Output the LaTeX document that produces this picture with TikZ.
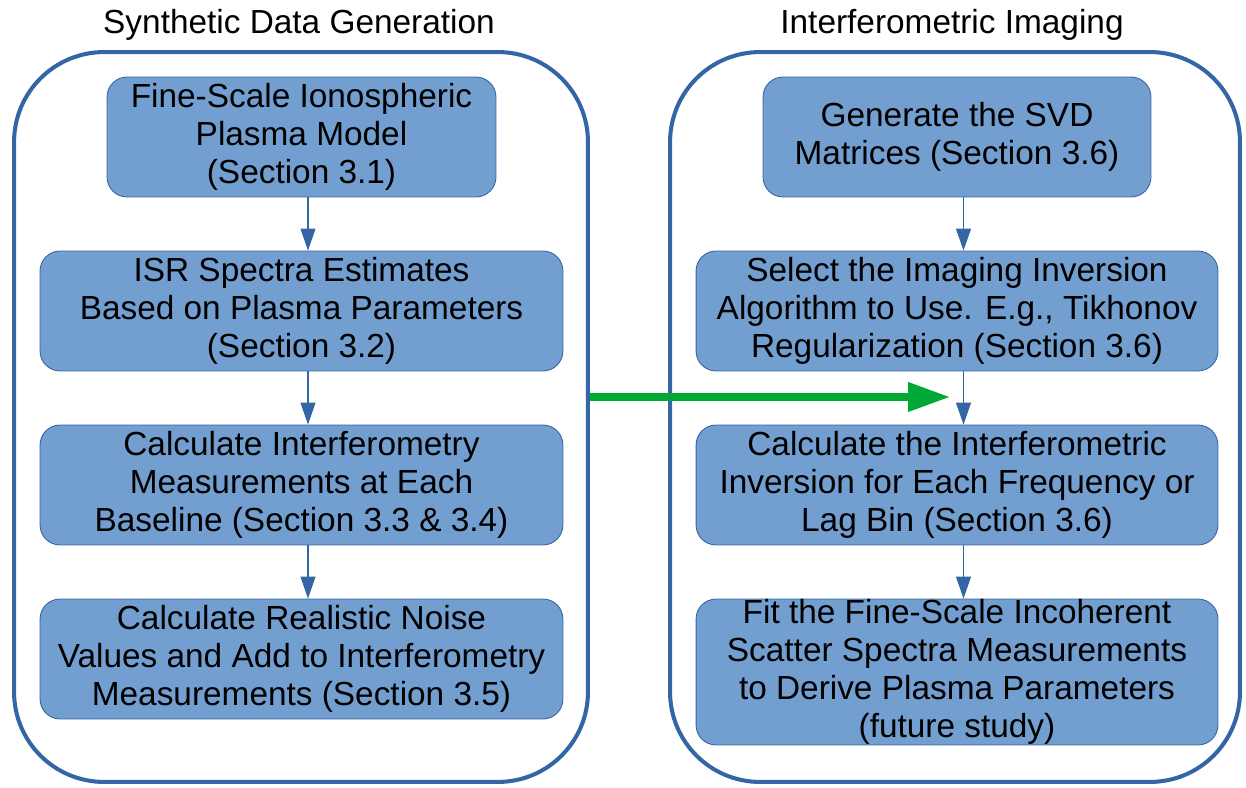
\documentclass[tikz,border=0pt]{standalone}
\usepackage{fontspec}
\setmainfont{Liberation Sans}
\usetikzlibrary{arrows.meta}

\definecolor{frameblue}{HTML}{3465A4}
\definecolor{boxblue}{HTML}{729FCF}
\definecolor{flowgreen}{HTML}{00A933}

\tikzset{
  group/.style={draw=frameblue, line width=2.3pt, rounded corners=1.8cm, minimum height=14.6cm},
  stepbox/.style={draw=frameblue, fill=boxblue, line width=0.5pt, rounded corners=0.4cm,
    align=center, minimum height=2.4cm, inner sep=0pt},
  flow/.style={draw=frameblue, line width=0.6pt, -{Triangle[length=0.44cm, width=0.3cm]}},
  title/.style={anchor=base},
}

\begin{document}
\begin{tikzpicture}[x=0.02cm, y=-0.02cm, font=\fontsize{19}{21.5}\selectfont]
    \useasboundingbox (0,0) rectangle (1246,787);

    % the two group frames
    \node[group, minimum width=11.48cm] (synth) at (301,417) {};
    \node[group, minimum width=11.4cm] (imaging) at (955,417) {};
    \node[title] (synthtitle) at (299,34) {Synthetic Data Generation};
    \node[title] (imagingtitle) at (952,34) {Interferometric Imaging};

    % left column
    \node[stepbox, minimum width=7.78cm] (model) at (301.5,137)
      {Fine-Scale Ionospheric\\Plasma Model\\(Section 3.1)};
    \node[stepbox, minimum width=10.46cm] (spectra) at (301.5,311)
      {ISR Spectra Estimates\\Based on Plasma Parameters\\(Section 3.2)};
    \node[stepbox, minimum width=10.46cm] (interf) at (301.5,485)
      {Calculate Interferometry\\Measurements at Each\\Baseline (Section 3.3 \& 3.4)};
    \node[stepbox, minimum width=10.46cm] (noise) at (301.5,659)
      {Calculate Realistic Noise\\Values and Add to Interferometry\\Measurements (Section 3.5)};

    % right column
    \node[stepbox, minimum width=7.76cm] (svd) at (957,137)
      {Generate the SVD\\Matrices (Section 3.6)};
    \node[stepbox, minimum width=10.44cm] (algo) at (957,311)
      {Select the Imaging Inversion\\Algorithm to Use. E.g., Tikhonov\\Regularization (Section 3.6)};
    \node[stepbox, minimum width=10.44cm] (inversion) at (957,485)
      {Calculate the Interferometric\\Inversion for Each Frequency or\\Lag Bin (Section 3.6)};
    \node[stepbox, minimum width=10.44cm, minimum height=2.92cm] (fit) at (957,672)
      {Fit the Fine-Scale Incoherent\\Scatter Spectra Measurements\\to Derive Plasma Parameters\\(future study)};

    % arrows inside the columns
    \draw[flow] ([xshift=0.13cm]model.south) -- ([xshift=0.13cm]spectra.north);
    \draw[flow] ([xshift=0.13cm]spectra.south) -- ([xshift=0.13cm]interf.north);
    \draw[flow] ([xshift=0.13cm]interf.south) -- ([xshift=0.13cm]noise.north);
    \draw[flow] ([xshift=0.13cm]svd.south) -- ([xshift=0.13cm]algo.north);
    \draw[flow] ([xshift=0.13cm]algo.south) -- ([xshift=0.13cm]inversion.north);
    \draw[flow] ([xshift=0.13cm]inversion.south) -- ([xshift=0.13cm]fit.north);

    % hand over from one group to the other
    \coordinate (handover) at (950,397);
    \draw[flowgreen, line width=4pt, -{Triangle[length=0.84cm, width=0.56cm]}]
      (synth.east |- handover) -- (handover);
\end{tikzpicture}
\end{document}
